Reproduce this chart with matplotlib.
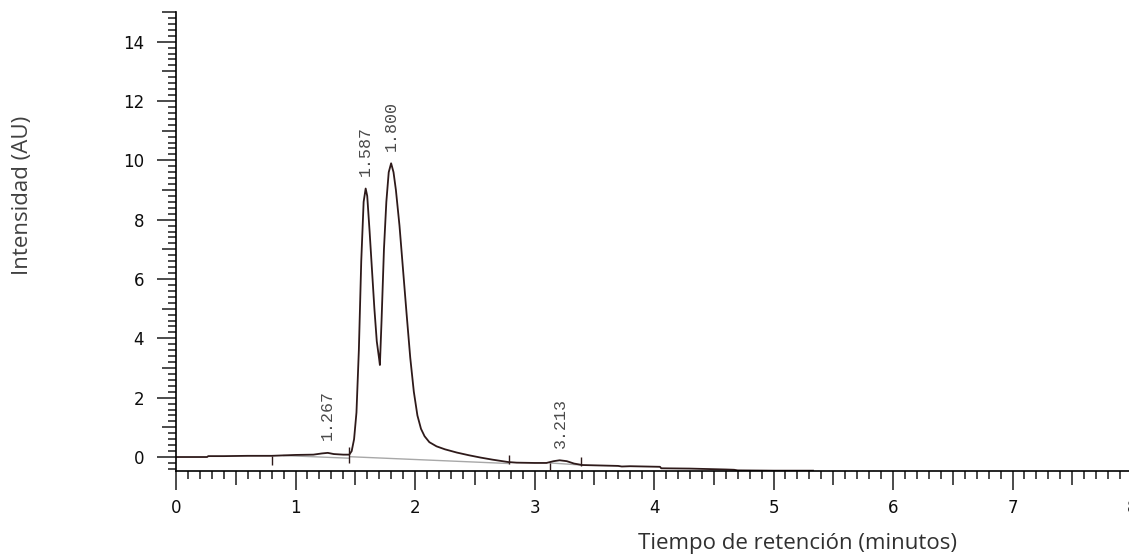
import matplotlib.pyplot as plt
from matplotlib.ticker import MultipleLocator, FuncFormatter

# Cromatograma: tiempo (min) / intensidad (AU)
tiempo = [0.00, 0.10, 0.20, 0.26, 0.27, 0.40, 0.60, 0.80, 1.00, 1.15, 1.22, 1.27,
          1.32, 1.40, 1.45, 1.47, 1.49, 1.51, 1.53, 1.55, 1.57, 1.587, 1.60, 1.62,
          1.64, 1.66, 1.68, 1.70, 1.706, 1.72, 1.74, 1.76, 1.78, 1.80, 1.82, 1.84,
          1.87, 1.90, 1.93, 1.96, 1.99, 2.02, 2.05, 2.08, 2.12, 2.18, 2.25, 2.35,
          2.45, 2.55, 2.65, 2.78, 2.85, 3.00, 3.10, 3.16, 3.21, 3.27, 3.33, 3.40,
          3.50, 3.70, 3.73, 3.80, 4.05, 4.06, 4.30, 4.60, 4.67, 4.70, 5.00, 5.33]
senal = [0.00, 0.00, 0.00, 0.00, 0.03, 0.03, 0.04, 0.04, 0.07, 0.08, 0.12, 0.14,
         0.10, 0.08, 0.08, 0.20, 0.60, 1.50, 3.60, 6.60, 8.60, 9.05, 8.80, 7.60,
         6.30, 5.00, 3.90, 3.30, 3.10, 4.60, 7.00, 8.60, 9.60, 9.90, 9.60, 9.00,
         7.80, 6.30, 4.80, 3.35, 2.20, 1.40, 0.95, 0.70, 0.50, 0.36, 0.26, 0.15,
         0.06, -0.02, -0.09, -0.17, -0.19, -0.20, -0.20, -0.14, -0.11, -0.14, -0.22, -0.27,
         -0.28, -0.30, -0.32, -0.31, -0.33, -0.38, -0.39, -0.42, -0.43, -0.45, -0.46, -0.46]

# lineas base de integracion
base_t = [[0.90, 1.45], [1.455, 2.79], [3.13, 3.39]]
base_y = [[0.05, -0.04], [0.01, -0.22], [-0.20, -0.27]]

# marcas de inicio / fin de pico
marca_t = [0.80, 1.45, 2.79, 3.13, 3.39]
marca_sup = [0.05, 0.35, 0.07, -0.20, 0.01]
marca_inf = [-0.27, -0.20, -0.23, -0.48, -0.30]

# picos etiquetados
picos_t = [1.267, 1.587, 1.800, 3.213]
picos_y = [0.14, 9.05, 9.90, -0.11]

fig = plt.figure(figsize=(11.29, 5.6), dpi=100)
ax = fig.add_axes([0.1559, 0.159, 0.8468, 0.8196])

for bt, by in zip(base_t, base_y):
    ax.plot(bt, by, color="#a8a8a8", lw=1.0, zorder=1)
ax.plot(tiempo, senal, color="#2e1a1a", lw=1.3, zorder=2)
ax.plot([5.36, 5.85], [-0.46, -0.46], color="#9a9a9a", lw=1.0, ls=(0, (1, 3)), zorder=1)
ax.vlines(marca_t, marca_inf, marca_sup, color="#2e1a1a", lw=1.0, zorder=3)

for t, y in zip(picos_t, picos_y):
    ax.annotate(f"{t:.3f}", (t, y), xytext=(0, 9), textcoords="offset points",
                rotation=90, ha="center", va="bottom", fontsize=12,
                family="Liberation Mono", color="#4a4a4a")

ax.set_xlim(0, 8)
ax.set_ylim(-0.47, 15)

for s in ["top", "right"]:
    ax.spines[s].set_visible(False)
ax.spines["left"].set_linewidth(1.2)
ax.spines["bottom"].set_linewidth(1.2)

ax.xaxis.set_major_locator(MultipleLocator(0.5))
ax.xaxis.set_minor_locator(MultipleLocator(0.1))
ax.yaxis.set_major_locator(MultipleLocator(1))
ax.yaxis.set_minor_locator(MultipleLocator(0.2))
ax.xaxis.set_major_formatter(FuncFormatter(lambda v, p: f"{v:.0f}" if abs(v - round(v)) < 1e-6 else ""))
ax.yaxis.set_major_formatter(FuncFormatter(lambda v, p: f"{v:.0f}" if round(v) % 2 == 0 else ""))

ax.tick_params(axis="both", which="major", length=14, width=1.1, direction="out",
               labelsize=12, labelcolor="#0d0d0d", color="#1a1a1a")
ax.tick_params(axis="both", which="minor", length=5.8, width=1.1, direction="out", color="#1a1a1a")
ax.tick_params(axis="x", which="major", pad=6)
ax.tick_params(axis="y", which="major", pad=9)

# marcas intermedias (medias unidades en x, impares en y) mas cortas
for tk, v in zip(ax.xaxis.get_major_ticks(), ax.xaxis.get_majorticklocs()):
    if abs(v - round(v)) > 1e-6:
        tk.tick1line.set_markersize(10)
for tk, v in zip(ax.yaxis.get_major_ticks(), ax.yaxis.get_majorticklocs()):
    if round(v) % 2 != 0:
        tk.tick1line.set_markersize(10)

fig.text(0.0195, 0.509, "Intensidad (AU)", rotation=90, ha="center", va="bottom",
         fontsize=16, family="Open Sans", color="#404040")
fig.text(0.565, 0.030, "Tiempo de retención (minutos)", ha="left", va="center",
         fontsize=16, family="Open Sans", color="#303030")

fig.savefig("out.png", dpi=100)
